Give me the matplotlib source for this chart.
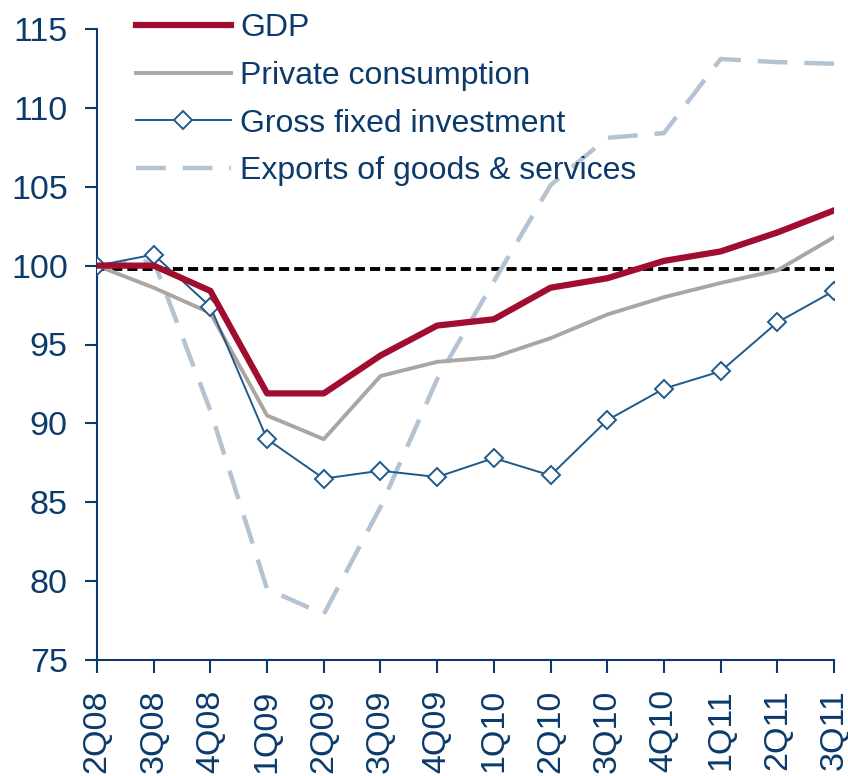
import matplotlib
matplotlib.use("Agg")
import matplotlib.pyplot as plt

quarters = ["2Q08", "3Q08", "4Q08", "1Q09", "2Q09", "3Q09", "4Q09",
            "1Q10", "2Q10", "3Q10", "4Q10", "1Q11", "2Q11", "3Q11"]
gdp = [100.0, 100.0, 98.4, 91.9, 91.9, 94.3, 96.2, 96.6, 98.6, 99.2, 100.3, 100.9, 102.1, 103.5]
private_consumption = [100.0, 98.6, 97.0, 90.5, 89.0, 93.0, 93.9, 94.2, 95.4, 96.9, 98.0, 98.9, 99.7, 101.8]
gross_fixed_investment = [100.0, 100.7, 97.4, 89.0, 86.5, 87.0, 86.6, 87.8, 86.7, 90.2, 92.2, 93.3, 96.4, 98.4]
exports = [100.0, 100.3, 90.8, 79.5, 77.9, 84.7, 92.8, 99.0, 105.1, 108.1, 108.4, 113.1, 112.9, 112.8]
baseline = 99.8

navy = "#0B3A6B"
plt.rcParams['font.family'] = ['Liberation Sans', 'DejaVu Sans']

fig = plt.figure(figsize=(8.48, 7.76), dpi=100)
ax = fig.add_axes([97/848, 1-660/776, (834-97)/848, (660-29)/776])
x = list(range(len(quarters)))

ax.axhline(baseline, color="black", lw=2.8, ls=(0, (2.6, 1.3)), zorder=1)
ax.plot(x, exports, color="#B4C3D2", lw=3.2, ls=(0, (6.7, 3.8)), label="Exports of goods & services", zorder=2)
ax.plot(x, private_consumption, color="#ADA59F", lw=2.8, label="Private consumption", zorder=3)
ax.plot(x, gross_fixed_investment, color="#1F5A8C", lw=1.4, marker="D", markersize=9,
        markerfacecolor="white", markeredgecolor="#1F5A8C", markeredgewidth=1.4,
        label="Gross fixed investment", zorder=4)
ax.plot(x, gdp, color="#A00D2F", lw=4.5, label="GDP", zorder=5)

ax.set_xlim(0, len(quarters)-1)
ax.set_ylim(75, 115)
ax.set_yticks(range(75, 116, 5))
ax.set_xticks(x)
ax.set_xticklabels(quarters, rotation=90)
for s in ["top", "right"]:
    ax.spines[s].set_visible(False)
for s in ["left", "bottom"]:
    ax.spines[s].set_color(navy)
    ax.spines[s].set_linewidth(1.5)
ax.tick_params(axis="both", colors=navy, labelcolor=navy, labelsize=24.5, length=9, width=1.5, direction="out")
ax.tick_params(axis="y", pad=12)
ax.tick_params(axis="x", pad=12)
ax.set_facecolor("none")

h, l = ax.get_legend_handles_labels()
order = [3, 1, 2, 0]
leg = ax.legend([h[i] for i in order], [l[i] for i in order], loc="upper left",
                bbox_to_anchor=(0.035, 1.045), frameon=False, fontsize=23,
                handlelength=3.0, handletextpad=0.28, labelspacing=0.55, borderaxespad=0)
for t in leg.get_texts():
    t.set_color(navy)

fig.savefig("out.png", dpi=100)
